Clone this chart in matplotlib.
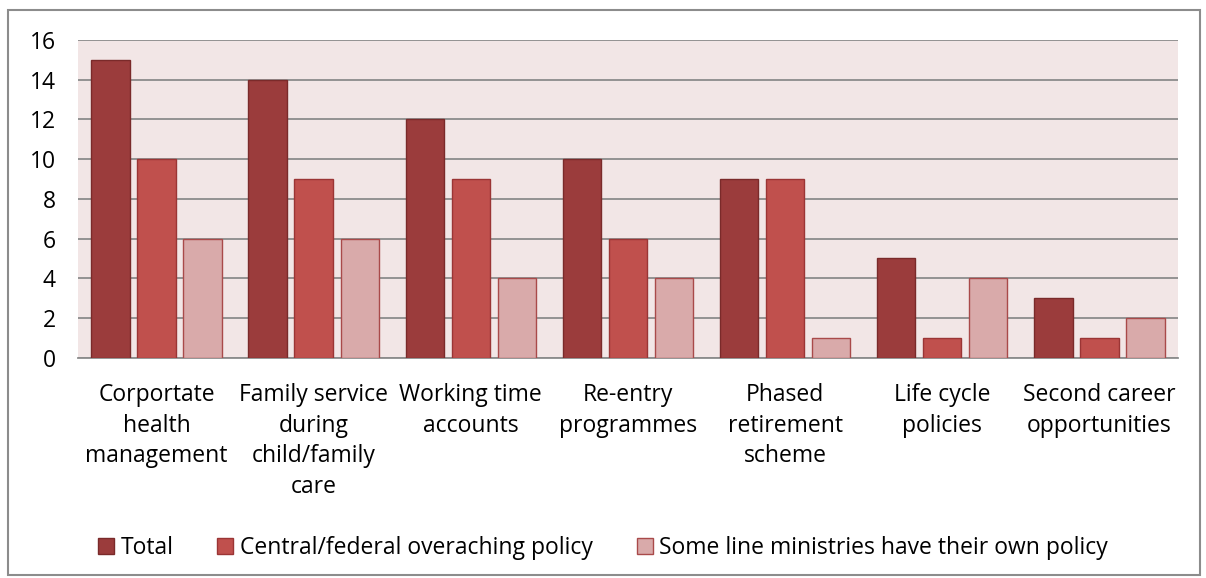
import matplotlib.pyplot as plt
import numpy as np

plt.rcParams['font.family'] = ['Open Sans', 'DejaVu Sans']

categories = ["Corportate\nhealth\nmanagement", "Family service\nduring\nchild/family\ncare",
              "Working time\naccounts", "Re-entry\nprogrammes", "Phased\nretirement\nscheme",
              "Life cycle\npolicies", "Second career\nopportunities"]
total = [15, 14, 12, 10, 9, 5, 3]
central = [10, 9, 9, 6, 9, 1, 1]
some_line = [6, 6, 4, 4, 1, 4, 2]
series_names = ["Total", "Central/federal overaching policy", "Some line ministries have their own policy"]

colors = ["#9b3c3c", "#c0504d", "#d9aaaa"]
edges = ["#7a2a2a", "#9b3535", "#a94a4a"]

fig = plt.figure(figsize=(12.06, 5.78), dpi=100)
ax = fig.add_axes([0.0647, 0.381, 0.912, 0.55])
x = np.arange(len(categories))
w = 0.245
step = 0.293
for k, vals in enumerate([total, central, some_line]):
    ax.bar(x + (k - 1) * step, vals, w, color=colors[k], edgecolor=edges[k],
           linewidth=1, label=series_names[k], zorder=3)

ax.set_facecolor("#f2e6e6")
ax.set_xlim(-0.5, len(categories) - 0.5)
ax.set_ylim(0, 16)
ax.set_yticks(range(0, 17, 2))
ax.yaxis.grid(True, color="#8c8c8c", linewidth=1.3, zorder=0)
ax.set_xticks(x)
ax.set_xticklabels(categories, fontsize=16.5, linespacing=1.38)
ax.tick_params(axis='x', length=0, pad=18)
ax.tick_params(axis='y', length=0, labelsize=16.5, pad=16)
for s in ["top", "right", "left"]:
    ax.spines[s].set_visible(False)
ax.spines["bottom"].set_color("#8c8c8c")
ax.spines["bottom"].set_linewidth(1.3)

fig.legend(loc="lower center", bbox_to_anchor=(0.5, 0.0), ncol=3, frameon=False,
           fontsize=16.5, handlelength=0.7, handleheight=0.7, handletextpad=0.3,
           columnspacing=1.9, borderaxespad=0.4)

border = plt.Rectangle((0.007, 0.005), 0.988, 0.978, transform=fig.transFigure,
                       fill=False, edgecolor="#8c8c8c", linewidth=1.5)
fig.patches.append(border)

fig.savefig("out.png", dpi=100)
